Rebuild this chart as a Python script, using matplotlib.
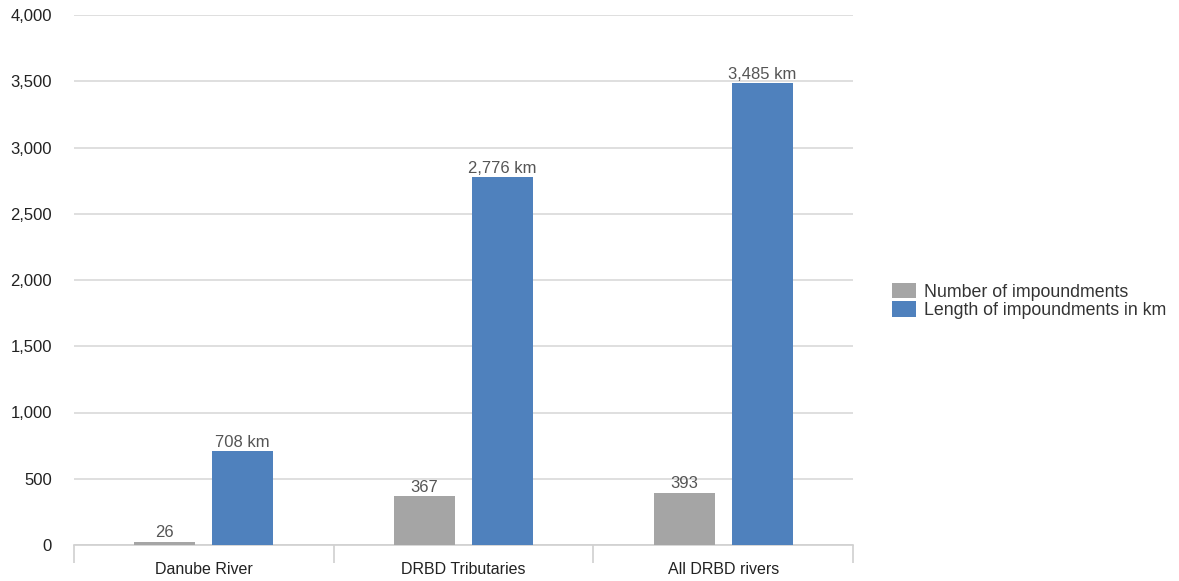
import numpy as np
import matplotlib.pyplot as plt
from matplotlib.patches import Patch

plt.rcParams['font.family'] = ['Liberation Sans', 'DejaVu Sans']

categories = ['Danube River', 'DRBD Tributaries', 'All DRBD rivers']
n_impoundments = [26, 367, 393]
length_km = [708, 2776, 3485]
series_names = ['Number of impoundments', 'Length of impoundments in km']
yticks = [0, 500, 1000, 1500, 2000, 2500, 3000, 3500, 4000]

gray = '#A5A5A5'
blue = '#4F81BD'

fig = plt.figure(figsize=(11.79, 5.81), dpi=100)
ax = fig.add_axes([74/1179, 1 - 545/581, 779/1179, 530/581])

x = np.arange(len(categories))
w = 0.235
b1 = ax.bar(x - 0.15, n_impoundments, w, color=gray, zorder=3)
b2 = ax.bar(x + 0.15, length_km, w, color=blue, zorder=3)

lab_kw = dict(color='#555555', fontsize=12, ha='center', va='bottom')
for rect, v in zip(b1, n_impoundments):
    ax.text(rect.get_x() + rect.get_width()/2, v + 12, f'{v:,}', **lab_kw)
for rect, v in zip(b2, length_km):
    ax.text(rect.get_x() + rect.get_width()/2, v + 12, f'{v:,} km', **lab_kw)

ax.set_xlim(-0.5, len(categories) - 0.5)
ax.set_ylim(0, 4000)
ax.set_yticks(yticks)
ax.set_yticklabels([f'{t:,}' for t in yticks], fontsize=12, color='#222222')
ax.tick_params(axis='y', length=0, pad=16)
ax.yaxis.grid(True, color='#D9D9D9', linewidth=1.2, zorder=0)

# category labels centred, tick marks on the boundaries
ax.set_xticks(x)
ax.set_xticklabels(categories, fontsize=11.5, color='#222222')
ax.tick_params(axis='x', length=0, pad=12)
ax.set_xticks(np.arange(len(categories) + 1) - 0.5, minor=True)
ax.tick_params(axis='x', which='minor', length=13, width=1.2, color='#D0D0D0')

for s in ['top', 'right', 'left']:
    ax.spines[s].set_visible(False)
ax.spines['bottom'].set_color('#D0D0D0')
ax.spines['bottom'].set_linewidth(1.2)

handles = [Patch(facecolor=gray, edgecolor='none'), Patch(facecolor=blue, edgecolor='none')]
fig.legend(handles, series_names, loc='center left', bbox_to_anchor=(892/1179, 1 - 301/581),
           frameon=False, fontsize=12.8, handlelength=1.35, handleheight=0.95,
           handletextpad=0.45, labelspacing=0.05, labelcolor='#333333', borderaxespad=0,
           borderpad=0)

fig.savefig('out.png', dpi=100)
